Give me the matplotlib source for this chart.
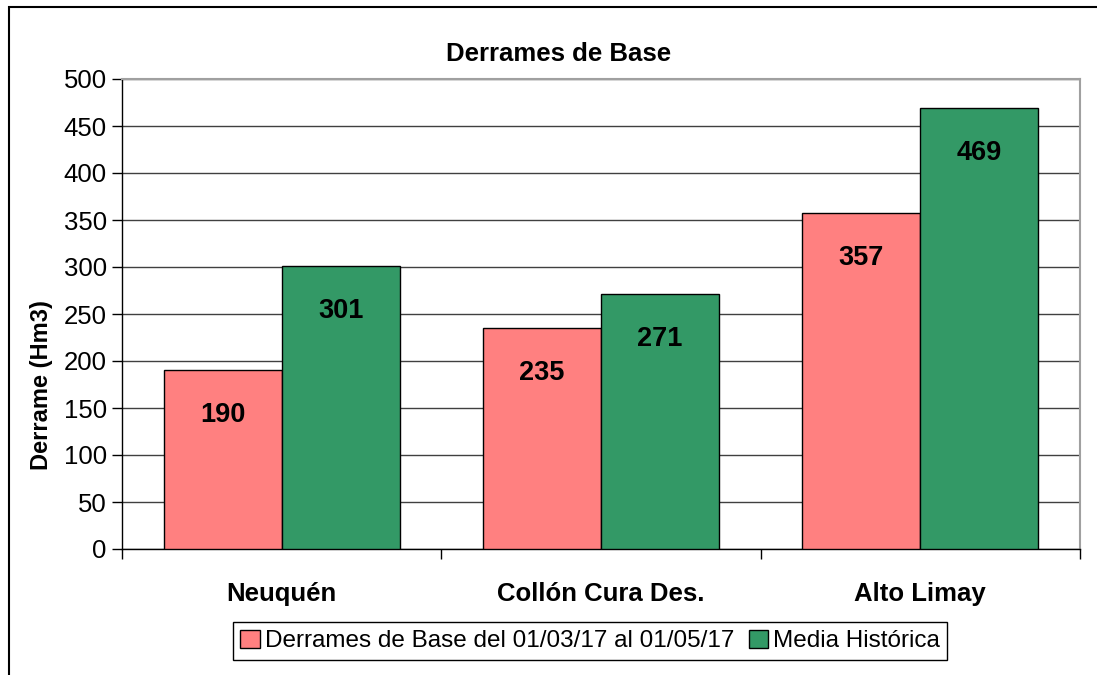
import matplotlib.pyplot as plt
from matplotlib.patches import Rectangle
import numpy as np

plt.rcParams['font.family'] = ['Liberation Sans', 'DejaVu Sans']

categories = ['Neuquén', 'Collón Cura Des.', 'Alto Limay']
derrames_base = [190, 235, 357]
media_historica = [301, 271, 469]
series_names = ['Derrames de Base del 01/03/17 al 01/05/17', 'Media Histórica']
yticks = [0, 50, 100, 150, 200, 250, 300, 350, 400, 450, 500]

W, H = 1097, 675
fig = plt.figure(figsize=(W / 100, H / 100), dpi=100)

# marco exterior del gráfico (solo se ven los bordes izquierdo y superior)
fig.patches.append(Rectangle((9 / W, -0.2), 1.2, 1.2 - 7 / H, transform=fig.transFigure,
                             fill=False, edgecolor='black', linewidth=1.5))

ax = fig.add_axes([122 / W, 1 - 549 / H, (1080 - 122) / W, (549 - 79) / H])

x = np.arange(len(categories))
w = 0.37
b1 = ax.bar(x - w / 2, derrames_base, w, color='#FF8080', edgecolor='black',
            linewidth=1, label=series_names[0], zorder=3)
b2 = ax.bar(x + w / 2, media_historica, w, color='#339966', edgecolor='black',
            linewidth=1, label=series_names[1], zorder=3)

for bars in (b1, b2):
    for rect in bars:
        v = rect.get_height()
        ax.annotate(f'{v:.0f}', (rect.get_x() + rect.get_width() / 2, v),
                    xytext=(0, -45), textcoords='offset pixels',
                    ha='center', va='center', fontsize=19.5, fontweight='bold', zorder=4)

ax.set_xlim(-0.5, len(categories) - 0.5)
ax.set_ylim(0, 500)
ax.set_yticks(yticks)
ax.tick_params(axis='y', labelsize=18.5, length=7, width=1, direction='out', pad=4)
ax.set_xticks(x)
ax.set_xticklabels(categories, fontsize=18.5, fontweight='bold')
ax.tick_params(axis='x', length=0, pad=24)
ax.set_xticks(np.arange(-0.5, len(categories)), minor=True)
ax.tick_params(axis='x', which='minor', length=7, width=1, direction='out')

ax.grid(axis='y', color='#404040', linewidth=1, zorder=0)
ax.set_axisbelow(True)
for s in ('top', 'right'):
    ax.spines[s].set_color('#a0a0a0')
    ax.spines[s].set_linewidth(1.5)
for s in ('left', 'bottom'):
    ax.spines[s].set_color('black')
    ax.spines[s].set_linewidth(1)

fig.text(559 / W, 1 - 54 / H, 'Derrames de Base', ha='center', va='center',
         fontsize=18.5, fontweight='bold')
fig.text(42 / W, 1 - 385 / H, 'Derrame (Hm3)', ha='center', va='center',
         rotation=90, fontsize=17, fontweight='bold')

leg = fig.legend(handles=[b1, b2], loc='center', bbox_to_anchor=(590 / W, 1 - 641 / H),
                 ncol=2, fontsize=17.5, frameon=True, fancybox=False, framealpha=1,
                 edgecolor='black', handlelength=0.8, handleheight=0.8,
                 handletextpad=0.2, columnspacing=0.6, borderpad=0.3, borderaxespad=0)
leg.get_frame().set_linewidth(1)

fig.savefig('out.png', dpi=100)
